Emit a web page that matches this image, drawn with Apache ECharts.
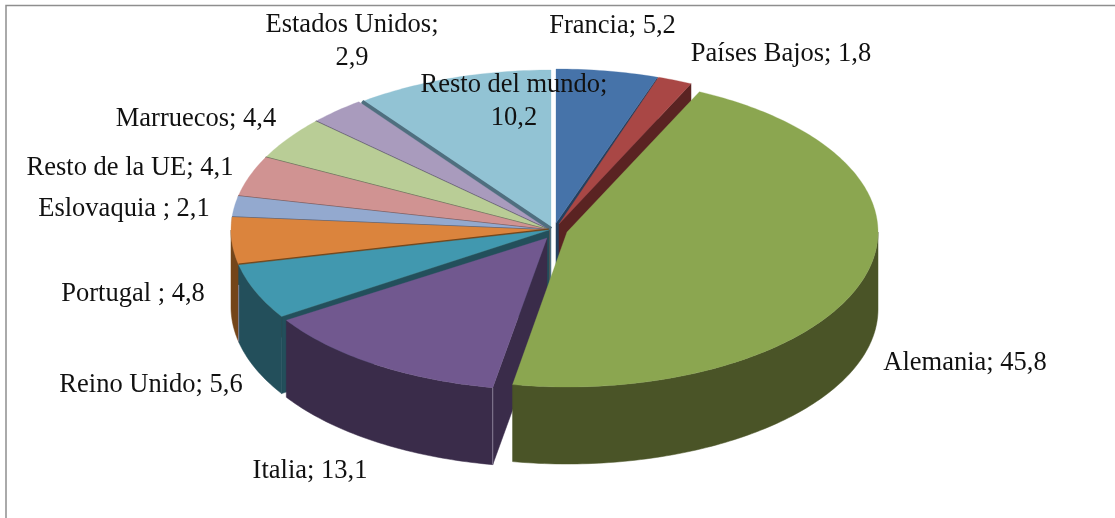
<!DOCTYPE html>
<html>
<head>
<meta charset="utf-8">
<style>html,body{margin:0;padding:0;background:#fff}#c{width:1115px;height:518px}</style>
<script src="https://cdn.jsdelivr.net/npm/echarts@6/dist/echarts.min.js"></script>
</head>
<body>
<div id="c"></div>
<script>
const names = ['Francia','Países Bajos','Alemania','Italia','Reino Unido','Portugal ','Eslovaquia ','Resto de la UE','Marruecos','Estados Unidos','Resto del mundo'];
const values = [5.2,1.8,45.8,13.1,5.6,4.8,2.1,4.1,4.4,2.9,10.2];
const topColors = ['#4673A9','#A94745','#8BA650','#71588F','#4198AF','#DB843D','#93A9CF','#D09392','#B9CD96','#A99BBD','#92C3D4'];
const wallColors = ['#25405F','#5A2322','#4A5427','#3A2C4A','#234F5B','#744519','#4A5F80','#7A5554','#66735A','#5E5570','#4F6F7F'];

// Layout of the projected pie
const base = {cx:549, cy:230, rx:318, ry:160};
const depth = 77;
const sliceLayout = {
  0:{cx:556, cy:223, rx:316, ry:154},
  1:{cx:559, cy:224, rx:310, ry:155},
  2:{cx:567, cy:232, rx:311, ry:155},
  3:{cx:547, cy:238, rx:310, ry:152},
  10:{cx:551, cy:229, rx:316, ry:159}
};
const paintOrder = [10,9,8,7,6,5,0,1,4,3,2];
const labelAnchors = [[612.5,26],[781,54],[965,363],[310,471],[151,385],[133,294],[124,209],[130,168],[196,119],[352,41.5],[514,101.5]];
const labelBreak = {9:true,10:true};
const edgeWidths = {5:3,6:1.6,7:1.6,8:1.6,9:1.6,10:4};

const total = values.reduce((a,b)=>a+b,0);
const startAngles = [];
values.reduce((acc,v,i)=>{startAngles[i]=acc;return acc+v/total*360;},0);
const fmt = v => v.toFixed(1).replace('.',',');
const rad = d => d*Math.PI/180;

function pt(g,a,dy){return [g.cx+g.rx*Math.sin(rad(a)), g.cy-g.ry*Math.cos(rad(a))+(dy||0)];}
function arc(g,a,b,dy){
  const out=[]; const n=Math.max(2,Math.ceil((b-a)));
  for(let k=0;k<=n;k++) out.push(pt(g,a+(b-a)*k/n,dy));
  return out;
}
function renderSlice(params,api){
  const i=api.value(0);
  const g=sliceLayout[i]||base;
  const s=startAngles[i], e=s+values[i]/total*360;
  const kids=[];
  const wall=wallColors[i], top=topColors[i];
  const apex=[g.cx,g.cy], apexB=[g.cx,g.cy+depth];
  const face=(pts,fill)=>kids.push({type:'polygon',shape:{points:pts},style:{fill:fill,stroke:fill,lineWidth:0.5}});
  if(s>180) face([apex,pt(g,s),pt(g,s,depth),apexB],wall);
  if(e<180) face([apex,pt(g,e),pt(g,e,depth),apexB],wall);
  const a=Math.max(s,90), b=Math.min(e,270);
  if(b>a) face(arc(g,a,b,0).concat(arc(g,a,b,depth).reverse()),wall);
  kids.push({type:'polygon',shape:{points:[apex].concat(arc(g,s,e,0))},style:{fill:top,stroke:top,lineWidth:0.3}});
  if(edgeWidths[i]){
    const c=pt(g,s);
    kids.push({type:'line',shape:{x1:apex[0],y1:apex[1],x2:c[0],y2:c[1]},style:{stroke:wall,lineWidth:edgeWidths[i]}});
  }
  if(i===3||i===4){
    const c=pt(g,i===3?s:e);
    kids.push({type:'line',shape:{x1:c[0],y1:c[1]+(i===3?0:20),x2:c[0],y2:c[1]+depth},style:{stroke:'#9C93A8',lineWidth:0.8}});
  }
  return {type:'group',children:kids};
}
function renderLabel(params,api){
  const i=api.value(0), pos=labelAnchors[i];
  return {type:'text',x:pos[0],y:pos[1],
    style:{text:names[i]+(labelBreak[i]?';\n':'; ')+fmt(values[i]),fill:'#111',font:'26.5px "Liberation Serif", serif',
      align:'center',verticalAlign:'middle',lineHeight:33}};
}
const chart=echarts.init(document.getElementById('c'),null,{renderer:'canvas'});
chart.setOption({
  animation:false,
  backgroundColor:'#fff',
  graphic:[{type:'rect',silent:true,z:0,shape:{x:6,y:5.5,width:1300,height:800},style:{fill:'none',stroke:'#8E8E8E',lineWidth:1.5}}],
  series:[
    {type:'custom',coordinateSystem:'none',silent:true,z:2,renderItem:renderSlice,data:paintOrder.map(i=>[i])},
    {type:'custom',coordinateSystem:'none',silent:true,z:3,renderItem:renderLabel,data:names.map((n,i)=>[i])}
  ]
});
</script>
</body>
</html>
